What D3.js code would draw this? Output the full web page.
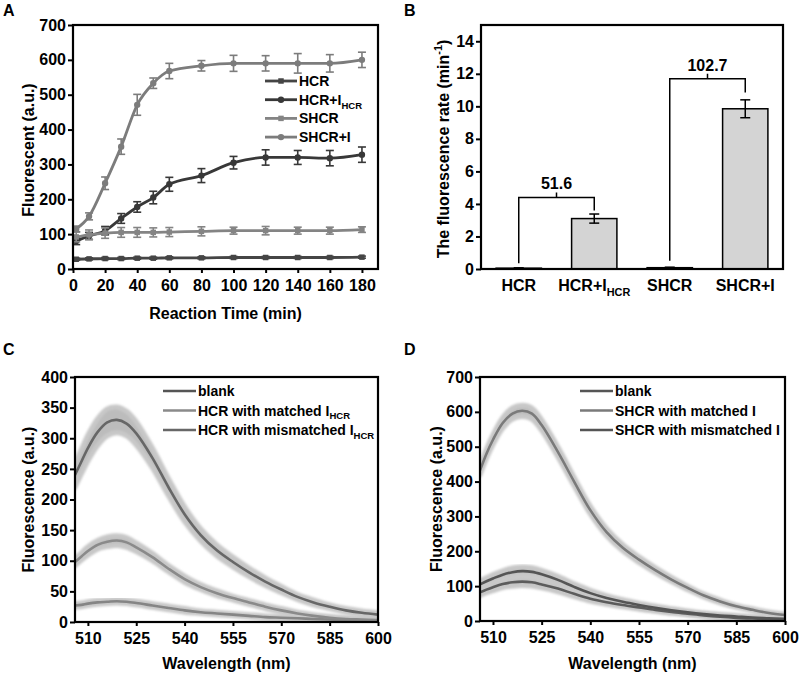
<!DOCTYPE html>
<html>
<head>
<meta charset="utf-8">
<script src="https://cdn.jsdelivr.net/npm/d3@7"></script>
<style>
  body { margin: 0; background: #fff; }
  svg { display: block; font-family: "Liberation Sans", Arial, sans-serif; font-weight: bold; }
</style>
</head>
<body>
<svg id="fig" width="800" height="675"></svg>
<script>
// ---- panel A: kinetics ----
const timeMin = [2, 10, 20, 30, 40, 50, 60, 80, 100, 120, 140, 160, 180];
const hcr      = [28, 29, 30, 30, 31, 31, 32, 32, 33, 33, 33, 33, 34];
const hcrErr   = [3, 3, 3, 3, 3, 3, 3, 3, 3, 3, 3, 3, 3];
const hcrI     = [80, 95, 110, 145, 178, 205, 243, 268, 305, 320, 320, 318, 328];
const hcrIErr  = [10, 10, 12, 14, 15, 18, 20, 20, 18, 22, 20, 22, 22];
const shcr     = [92, 98, 103, 105, 105, 105, 106, 108, 110, 110, 110, 110, 113];
const shcrErr  = [14, 14, 15, 14, 14, 13, 13, 13, 10, 12, 10, 10, 8];
const shcrI    = [115, 151, 246, 351, 471, 533, 568, 583, 590, 590, 590, 590, 600];
const shcrIErr = [8, 10, 18, 22, 30, 15, 22, 15, 23, 22, 28, 25, 22];

// ---- panel B: rates ----
const rateCats = ["HCR", "HCR+I_HCR", "SHCR", "SHCR+I"];
const rates    = [0.05, 3.1, 0.08, 9.85];
const rateErr  = [0.02, 0.28, 0.03, 0.55];
const brackets = [
  { from: "HCR", to: "HCR+I_HCR", top: 4.4, leftEnd: 0.35, rightEnd: 3.6, label: "51.6" },
  { from: "SHCR", to: "SHCR+I", top: 11.7, leftEnd: 0.5, rightEnd: 10.85, label: "102.7" }
];

// ---- panels C & D: spectra ----
const wavelength = [506, 508, 510, 513, 516, 519, 522, 525, 530, 535, 540, 545, 550, 555, 560, 565, 570, 575, 580, 585, 590, 595, 600];
const cBig        = [240, 262, 284, 310, 326, 330, 324, 308, 268, 220, 176, 142, 117, 98, 81, 66, 53, 41, 32, 25, 19, 15, 12];
const cBigErr     = [20, 20, 21, 22, 22, 21, 20, 19, 16, 14, 12, 10, 9, 8, 7, 6, 5, 4, 4, 3, 3, 3, 3];
const cMid        = [98, 107, 116, 126, 131, 133, 130, 122, 106, 87, 70, 57, 47, 39, 32, 25, 19, 14, 10, 7, 5, 4, 3];
const cMidErr     = [6, 6, 7, 7, 8, 8, 8, 7, 6, 5, 5, 4, 4, 3, 3, 3, 3, 2, 2, 2, 2, 2, 2];
const cLow        = [27, 28, 30, 32, 33, 34, 33, 31, 27, 23, 19, 16, 14, 12, 10, 8, 7, 6, 5, 4, 3, 2, 2];
const cLowErr     = [3, 3, 3, 3, 3, 3, 3, 3, 3, 3, 3, 2, 2, 2, 2, 2, 2, 2, 2, 2, 2, 2, 2];
const dBig        = [432, 480, 520, 568, 595, 603, 595, 562, 485, 400, 318, 255, 210, 176, 146, 119, 95, 73, 56, 42, 32, 23, 17];
const dBigErr     = [12, 13, 14, 15, 16, 16, 16, 15, 14, 12, 11, 10, 9, 8, 7, 6, 5, 4, 4, 3, 3, 3, 3];
const dMid        = [105, 114, 122, 133, 140, 143, 141, 134, 118, 98, 80, 66, 55, 46, 38, 31, 25, 20, 16, 13, 10, 8, 6];
const dMidErr     = [10, 10, 11, 11, 12, 12, 12, 11, 10, 9, 8, 7, 6, 5, 5, 4, 4, 3, 3, 3, 2, 2, 2];
const dLow        = [82, 90, 97, 106, 111, 113, 111, 105, 93, 78, 64, 54, 46, 39, 32, 26, 21, 16, 12, 9, 7, 5, 4];
const dLowErr     = [9, 9, 10, 10, 11, 11, 11, 10, 9, 8, 7, 6, 5, 5, 4, 4, 3, 3, 3, 2, 2, 2, 2];

const svg = d3.select("#fig");
svg.append("rect").attr("width", 800).attr("height", 675).attr("fill", "#fff");

const defs = svg.append("defs");
defs.append("filter").attr("id", "soft").attr("x", "-5%").attr("y", "-5%").attr("width", "110%").attr("height", "110%")
  .append("feGaussianBlur").attr("stdDeviation", 0.9);

// text with optional sub/superscript parts
function rich(textSel, parts, size) {
  parts.forEach(p => {
    const ts = textSel.append("tspan").text(p.t);
    if (p.sub) ts.attr("font-size", size * 0.68).attr("dy", size * 0.28);
    else if (p.sup) ts.attr("font-size", size * 0.68).attr("dy", -size * 0.42);
    else if (p.back) ts.attr("dy", p.back);
  });
}
function catParts(name) {
  if (name.endsWith("_HCR")) return [{ t: name.replace("_HCR", "") }, { t: "HCR", sub: true }];
  return [{ t: name }];
}

function axes(x, y, xTicks, yTicks, box, xTickLen) {
  const gy = svg.append("g").attr("transform", `translate(${box.x0},0)`)
    .call(d3.axisLeft(y).tickValues(yTicks).tickSize(5).tickPadding(2));
  const gx = svg.append("g").attr("transform", `translate(0,${box.y1})`)
    .call(d3.axisBottom(x).tickValues(xTicks).tickSize(xTickLen).tickPadding(11 - xTickLen));
  [gx, gy].forEach(g => {
    g.select(".domain").remove();
    g.selectAll("line").attr("stroke", "#000").attr("stroke-width", 2);
    g.selectAll("text").attr("font-size", 16).attr("fill", "#000")
      .attr("font-family", "Liberation Sans, Arial, sans-serif").attr("font-weight", "bold");
  });
  return gx;
}
function frame(box) {
  svg.append("rect").attr("x", box.x0).attr("y", box.y0)
    .attr("width", box.x1 - box.x0).attr("height", box.y1 - box.y0)
    .attr("fill", "none").attr("stroke", "#000").attr("stroke-width", 2.2);
}
function yTitle(cx, cy, parts) {
  const t = svg.append("text").attr("transform", `translate(${cx},${cy}) rotate(-90)`)
    .attr("text-anchor", "middle").attr("dy", "0.35em").attr("font-size", 16);
  rich(t, parts, 16);
}
function xTitle(cx, y, label) {
  svg.append("text").attr("x", cx).attr("y", y).attr("text-anchor", "middle")
    .attr("font-size", 16).text(label);
}
function panelLetter(x, y, s) {
  svg.append("text").attr("x", x).attr("y", y).attr("font-size", 16).text(s);
}

// ================= A =================
{
  const box = { x0: 73, x1: 378, y0: 25, y1: 269 };
  const x = d3.scaleLinear().domain([0, 190]).range([box.x0, box.x1]);
  const y = d3.scaleLinear().domain([0, 700]).range([box.y1, box.y0]);
  axes(x, y, d3.range(0, 181, 20), d3.range(0, 701, 100), box, 4);

  const series = [
    { name: "HCR", v: hcr, e: hcrErr, color: "#454545", shape: "square" },
    { name: "HCR+I_HCR", v: hcrI, e: hcrIErr, color: "#383838", shape: "circle" },
    { name: "SHCR", v: shcr, e: shcrErr, color: "#848484", shape: "square" },
    { name: "SHCR+I", v: shcrI, e: shcrIErr, color: "#7c7c7c", shape: "circle" }
  ];
  const line = d3.line().x((d, i) => x(timeMin[i])).y(d => y(d)).curve(d3.curveMonotoneX);
  const sym = s => d3.symbol().type(s === "square" ? d3.symbolSquare : d3.symbolCircle).size(s === "square" ? 30 : 32);

  series.forEach(s => {
    const g = svg.append("g");
    const eb = g.selectAll("g.eb").data(s.v).join("g").attr("stroke", s.color).attr("stroke-width", 1.6);
    eb.append("line").attr("x1", (d, i) => x(timeMin[i])).attr("x2", (d, i) => x(timeMin[i]))
      .attr("y1", (d, i) => y(d - s.e[i])).attr("y2", (d, i) => y(d + s.e[i]));
    [-1, 1].forEach(sg => eb.append("line")
      .attr("x1", (d, i) => x(timeMin[i]) - 4).attr("x2", (d, i) => x(timeMin[i]) + 4)
      .attr("y1", (d, i) => y(d + sg * s.e[i])).attr("y2", (d, i) => y(d + sg * s.e[i])));
    g.append("path").attr("d", line(s.v)).attr("fill", "none").attr("stroke", s.color).attr("stroke-width", 2.8);
    g.selectAll("path.m").data(s.v).join("path").attr("class", "m")
      .attr("transform", (d, i) => `translate(${x(timeMin[i])},${y(d)})`)
      .attr("d", sym(s.shape)).attr("fill", s.color);
  });

  // legend
  const lg = svg.append("g").attr("transform", "translate(265,81)");
  series.forEach((s, i) => {
    const r = lg.append("g").attr("transform", `translate(0,${i * 18.7})`);
    r.append("line").attr("x1", 0).attr("x2", 32).attr("stroke", s.color).attr("stroke-width", 2.8);
    r.append("path").attr("transform", "translate(16,0)").attr("d", sym(s.shape)()).attr("fill", s.color);
    const t = r.append("text").attr("x", 34).attr("dy", "0.36em").attr("font-size", 14);
    rich(t, catParts(s.name), 14);
  });

  yTitle(28, 150, [{ t: "Fluorescent (a.u.)" }]);
  xTitle((box.x0 + box.x1) / 2, 319, "Reaction Time (min)");
  frame(box);
  panelLetter(3, 16, "A");
}

// ================= B =================
{
  const box = { x0: 481, x1: 783, y0: 25, y1: 269 };
  const x = d3.scaleBand().domain(rateCats).range([box.x0, box.x1]).paddingInner(0.4).paddingOuter(0.2);
  const y = d3.scaleLinear().domain([0, 15]).range([box.y1, box.y0]);
  const gx = axes(x, y, rateCats, d3.range(0, 15, 2), box, 0);
  gx.selectAll("line").remove();
  gx.selectAll("text").text("").each(function (d) { rich(d3.select(this), catParts(d), 16); });

  svg.append("g").selectAll("rect").data(rateCats).join("rect")
    .attr("x", d => x(d)).attr("width", x.bandwidth())
    .attr("y", (d, i) => y(rates[i])).attr("height", (d, i) => y(0) - y(rates[i]))
    .attr("fill", "#d4d4d4").attr("stroke", "#000").attr("stroke-width", 1.5);

  const eb = svg.append("g").attr("stroke", "#000").attr("stroke-width", 1.5)
    .selectAll("g").data(rateCats).join("g");
  const cx = d => x(d) + x.bandwidth() / 2;
  eb.append("line").attr("x1", cx).attr("x2", cx)
    .attr("y1", (d, i) => y(rates[i] - rateErr[i])).attr("y2", (d, i) => y(rates[i] + rateErr[i]));
  [-1, 1].forEach(sg => eb.append("line").attr("x1", d => cx(d) - 5).attr("x2", d => cx(d) + 5)
    .attr("y1", (d, i) => y(rates[i] + sg * rateErr[i])).attr("y2", (d, i) => y(rates[i] + sg * rateErr[i])));

  brackets.forEach(b => {
    const xl = cx(b.from), xr = cx(b.to), yt = y(b.top), xm = (xl + xr) / 2;
    svg.append("path")
      .attr("d", `M${xl},${y(b.leftEnd)}V${yt}H${xr}V${y(b.rightEnd)}M${xm},${yt}V${yt - 5}`)
      .attr("fill", "none").attr("stroke", "#000").attr("stroke-width", 1.5);
    svg.append("text").attr("x", xm).attr("y", yt - 8).attr("text-anchor", "middle")
      .attr("font-size", 16).text(b.label);
  });

  yTitle(443, 149, [{ t: "The fluorescence rate (min" }, { t: "-1", sup: true }, { t: ")", back: 16 * 0.42 }]);
  frame(box);
  panelLetter(404, 16, "B");
}

// ================= C & D =================
function spectra(box, yMax, yStep, curves, legend, legendX, ytX, letter, letterX) {
  const x = d3.scaleLinear().domain([506, 600]).range([box.x0, box.x1]);
  const y = d3.scaleLinear().domain([0, yMax]).range([box.y1, box.y0]);
  axes(x, y, d3.range(510, 601, 15), d3.range(0, yMax + 1, yStep), box, 4);

  const area = d3.area().x((d, i) => x(wavelength[i])).curve(d3.curveCatmullRom);
  const line = d3.line().x((d, i) => x(wavelength[i])).y(d => y(d)).curve(d3.curveCatmullRom);
  const clipId = "clip" + letter;
  defs.append("clipPath").attr("id", clipId).append("rect")
    .attr("x", box.x0).attr("y", box.y0).attr("width", box.x1 - box.x0).attr("height", box.y1 - box.y0);
  const g = svg.append("g").attr("clip-path", `url(#${clipId})`);

  curves.forEach(c => {
    const a = area.y0((d, i) => y(d - c.e[i])).y1((d, i) => y(d + c.e[i]));
    g.append("path").attr("d", a(c.v)).attr("fill", "#bcbcbc").attr("stroke", "#c8c8c8")
      .attr("stroke-width", 5).attr("stroke-linejoin", "round").attr("filter", "url(#soft)");
  });
  curves.forEach(c => {
    g.append("path").attr("d", line(c.v)).attr("fill", "none")
      .attr("stroke", c.color).attr("stroke-width", 2.6);
  });

  const lg = svg.append("g").attr("transform", `translate(${legendX},391)`);
  legend.forEach((c, i) => {
    const r = lg.append("g").attr("transform", `translate(0,${i * 19.5})`);
    r.append("line").attr("x1", 0).attr("x2", 33).attr("stroke", c.color).attr("stroke-width", 2.6);
    const t = r.append("text").attr("x", 35).attr("dy", "0.36em").attr("font-size", 14);
    rich(t, c.label, 14);
  });

  yTitle(ytX, (box.y0 + box.y1) / 2, [{ t: "Fluorescence (a.u.)" }]);
  xTitle((box.x0 + box.x1) / 2, 669, "Wavelength (nm)");
  frame(box);
  panelLetter(letterX, 355, letter);
}

spectra({ x0: 75, x1: 378, y0: 377, y1: 622 },
  400, 50,
  [
    { v: cLow, e: cLowErr, color: "#858585" },
    { v: cMid, e: cMidErr, color: "#8a8a8a" },
    { v: cBig, e: cBigErr, color: "#676767" }
  ],
  [
    { color: "#555555", label: [{ t: "blank" }] },
    { color: "#8a8a8a", label: [{ t: "HCR with matched I" }, { t: "HCR", sub: true }] },
    { color: "#676767", label: [{ t: "HCR with mismatched I" }, { t: "HCR", sub: true }] }
  ],
  163, 28, "C", 3);

spectra({ x0: 480, x1: 785, y0: 377, y1: 621 },
  700, 100,
  [
    { v: dLow, e: dLowErr, color: "#5c5c5c" },
    { v: dMid, e: dMidErr, color: "#555555" },
    { v: dBig, e: dBigErr, color: "#7a7a7a" }
  ],
  [
    { color: "#555555", label: [{ t: "blank" }] },
    { color: "#7a7a7a", label: [{ t: "SHCR with matched I" }] },
    { color: "#555555", label: [{ t: "SHCR with mismatched I" }] }
  ],
  580, 436, "D", 404);
</script>
</body>
</html>
